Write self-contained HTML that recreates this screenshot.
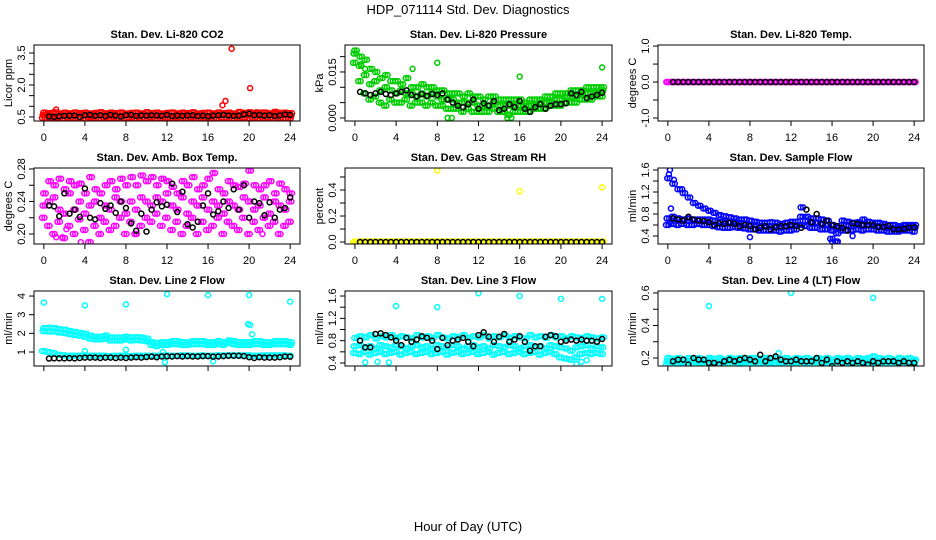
<!DOCTYPE html>
<html><head><meta charset="utf-8"><title>HDP_071114 Std. Dev. Diagnostics</title>
<style>html,body{margin:0;padding:0;background:#fff}svg{display:block;font-family:"Liberation Sans",sans-serif}</style>
</head><body>
<svg id="chart" width="936" height="540" viewBox="0 0 936 540" xmlns="http://www.w3.org/2000/svg">
<rect width="936" height="540" fill="#fff"/>
<text x="468" y="14" text-anchor="middle" font-size="13">HDP_071114  Std. Dev. Diagnostics</text>
<text x="468" y="531" text-anchor="middle" font-size="13">Hour of Day (UTC)</text>
</svg>
<script>
const binHours=[0,0.5,1,1.5,2,2.5,3,3.5,4,4.5,5,5.5,6,6.5,7,7.5,8,8.5,9,9.5,10,10.5,11,11.5,12,12.5,13,13.5,14,14.5,15,15.5,16,16.5,17,17.5,18,18.5,19,19.5,20,20.5,21,21.5,22,22.5,23,23.5,24];
const xTicks=[0,4,8,12,16,20,24];

// Panel 1: CO2
const co2Color=[[.45,.58,.7],[.42,.6,.68],[.47,.55,.72],[.44,.62,.66],[.41,.57,.7],[.46,.59,.67],[.43,.56,.71],[.45,.61,.68],[.4,.58,.7],[.47,.55,.66],[.44,.6,.69],[.42,.57,.72],[.46,.62,.67],[.43,.55,.7],[.45,.59,.68],[.41,.56,.71],[.44,.61,.66],[.47,.58,.69],[.42,.55,.7],[.45,.6,.67],[.43,.57,.72],[.46,.59,.68],[.41,.56,.7],[.44,.62,.66],[.45,.58,.69],[.42,.55,.71],[.47,.6,.67],[.43,.57,.7],[.44,.59,.68],[.46,.56,.72],[.41,.61,.66],[.45,.58,.69],[.43,.55,.7],[.44,.6,.67],[.42,.57,.71],[.46,.62,.68],[.45,.59,.7],[.41,.56,.66],[.44,.58,.73],[.47,.6,.69],[.42,.57,.72],[.45,.61,.68],[.43,.55,.7],[.44,.59,.71],[.46,.62,.67],[.41,.57,.74],[.45,.6,.69],[.43,.58,.7],[.44,.56,.68]];
const co2OutX=[1.2,17.4,17.7,18.3,20.1,20.7,22.4,16.0];
const co2OutY=[0.85,1.05,1.25,3.7,1.85,0.72,0.68,0.36];
const co2Black=[null,.52,.5,.53,.55,.56,.57,.5,.58,.6,.55,.58,.54,.6,.56,.52,.58,.6,.55,.57,.56,.58,.57,.55,.6,.54,.56,.55,.57,.58,.54,.56,.53,.56,.58,.6,.57,.55,.56,.62,.65,.58,.6,.56,.58,.54,.57,.62,.6];

// Panel 2: Pressure
const presColor=[[.018,.021,.022],[.012,.017,.02],[.008,.014,.019],[.006,.011,.016],[.007,.012,.015],[.005,.009,.013],[.004,.01,.014],[.006,.009,.012],[.005,.008,.012],[.005,.009,.011],[.006,.008,.013],[.004,.008,.01],[.005,.007,.01],[.005,.008,.011],[.004,.007,.01],[.005,.008,.01],[.004,.007,.009],[.004,.006,.009],[.003,.006,.008],[.003,.006,.008],[.003,.005,.008],[.002,.005,.007],[.003,.005,.008],[.002,.005,.007],[.002,.004,.007],[.002,.004,.006],[.002,.004,.007],[.003,.005,.007],[.002,.004,.006],[.002,.004,.006],[.001,.004,.006],[.002,.004,.006],[.002,.004,.006],[.002,.004,.005],[.002,.004,.006],[.003,.004,.006],[.003,.005,.006],[.003,.005,.007],[.004,.005,.007],[.004,.006,.008],[.004,.006,.008],[.005,.007,.008],[.005,.007,.009],[.005,.007,.009],[.006,.008,.009],[.006,.008,.01],[.006,.008,.01],[.007,.008,.01],[.007,.009,.01]];
const presOutX=[8,16,24,5.6,9,9.4,14.8,15.2,1,0.6];
const presOutY=[0.018,0.0135,0.0165,0.016,0,0,0,0,0.016,0.0175];
const presBlack=[null,.0085,.008,.0075,.008,.0085,.0078,.0075,.008,.0085,.009,.0075,.007,.0078,.0072,.0078,.0075,.008,.006,.005,.004,.0035,.0045,.006,.003,.0048,.004,.0055,.0025,.003,.0045,.0035,.0055,.003,.002,.0035,.0045,.003,.004,.0045,.0045,.0048,.008,.0075,.0085,.0065,.007,.0075,.0082];

// Panel 3: Li-820 Temp
const tempColor=binHours.map(()=>[0,0]);
const tempBlack=[null,0,0,0,0,0,0,0,0,0,0,0,0,0,0,0,0,0,0,0,0,0,0,0,0,0,0,0,0,0,0,0,0,0,0,0,0,0,0,0,0,0,0,0,0,0,0,0,0];

// Panel 4: Amb Box Temp
const ambColor=[[.22,.235,.25],[.21,.24,.265],[.2,.245,.26],[.215,.23,.268],[.195,.225,.255],[.21,.25,.265],[.2,.23,.26],[.218,.24,.262],[.205,.225,.25],[.19,.235,.27],[.21,.24,.255],[.2,.22,.25],[.215,.235,.26],[.205,.23,.265],[.21,.245,.255],[.22,.24,.268],[.2,.225,.26],[.215,.24,.27],[.2,.23,.26],[.21,.245,.272],[.22,.24,.265],[.215,.235,.27],[.225,.245,.26],[.21,.24,.268],[.22,.25,.265],[.205,.235,.258],[.215,.23,.25],[.2,.245,.265],[.21,.225,.26],[.22,.24,.27],[.2,.235,.255],[.215,.245,.26],[.205,.23,.268],[.21,.24,.275],[.22,.235,.255],[.2,.225,.25],[.215,.24,.265],[.21,.235,.26],[.205,.23,.258],[.22,.245,.262],[.2,.24,.278],[.215,.23,.26],[.205,.235,.255],[.22,.245,.26],[.21,.225,.265],[.215,.24,.25],[.2,.235,.262],[.21,.23,.255],[.215,.24,.25]];
const ambOutX=[3.6,1.2,1.8,9,21.3,2.2];
const ambOutY=[0.19,0.196,0.196,0.2,0.2,0.206];
const ambBlack=[null,.235,.234,.222,.25,.225,.23,.221,.256,.22,.218,.238,.231,.235,.226,.24,.232,.213,.204,.225,.203,.23,.239,.234,.236,.262,.227,.252,.212,.208,.215,.235,.25,.224,.228,.24,.232,.255,.23,.26,.22,.24,.238,.223,.239,.22,.23,.232,.245];

// Panel 5: Gas Stream RH
const rhColor=binHours.map(()=>[0,0.004]);
const rhOutX=[8,16,24];
const rhOutY=[0.55,0.39,0.42];
const rhBlack=[null,0,0,0,0,0,0,0,0,0,0,0,0,0,0,0,0,0,0,0,0,0,0,0,0,0,0,0,0,0,0,0,0,0,0,0,0,0,0,0,0,0,0,0,0,0,0,0,0];

// Panel 6: Sample Flow
const sfColor=[[.6,.72,1.45],[.62,.75,1.35],[.6,.72,1.25],[.62,.7,1.18],[.6,.72,1.1],[.6,.7,1.0],[.62,.7,.95],[.6,.7,.9],[.6,.7,.86],[.58,.68,.82],[.56,.66,.78],[.55,.66,.76],[.55,.65,.74],[.56,.66,.72],[.55,.64,.7],[.54,.63,.7],[.52,.6,.68],[.52,.6,.66],[.5,.58,.64],[.5,.58,.64],[.5,.58,.65],[.5,.58,.64],[.48,.56,.62],[.5,.57,.64],[.5,.6,.66],[.52,.6,.66],[.6,.75,.92],[.58,.68,.75],[.55,.65,.72],[.55,.64,.72],[.52,.62,.7],[.52,.6,.68],[.35,.5,.6],[.3,.45,.55],[.5,.6,.68],[.5,.6,.66],[.5,.58,.64],[.52,.6,.65],[.5,.6,.7],[.52,.6,.66],[.52,.58,.64],[.5,.58,.64],[.5,.56,.62],[.48,.54,.6],[.48,.54,.6],[.48,.54,.58],[.5,.55,.6],[.5,.56,.6],[.48,.55,.6]];
const sfOutX=[0.1,0.2,0.3,0.2,8,16,16.5,18,0.6,1.4];
const sfOutY=[1.52,1.6,0.9,0.65,0.38,0.3,0.28,0.4,1.42,1.25];
const sfBlack=[null,.72,.7,.68,.75,.7,.68,.67,.65,.6,.63,.62,.64,.62,.58,.6,.58,.52,.55,.58,.52,.56,.58,.58,.6,.58,.55,.88,.65,.8,.62,.68,.6,.58,.55,.5,.63,.62,.6,.6,.6,.56,.57,.58,.52,.52,.53,.55,.56];

// Panel 7: Line 2 Flow
const l2Color=[[1.05,2.12,2.28],[1.0,2.1,2.3],[.95,2.1,2.28],[.85,2.05,2.22],[.82,2.02,2.2],[.8,1.96,2.12],[.8,1.92,2.08],[.8,1.88,2.02],[.82,1.82,1.98],[.8,1.72,1.88],[.8,1.68,1.82],[.8,1.68,1.82],[.8,1.72,1.88],[.78,1.62,1.78],[.8,1.62,1.78],[.8,1.62,1.78],[.8,1.68,1.82],[.78,1.62,1.78],[.8,1.64,1.8],[.8,1.62,1.78],[.8,1.58,1.72],[.8,1.38,1.52],[.8,1.32,1.48],[.8,1.38,1.52],[.82,1.38,1.52],[.8,1.42,1.58],[.8,1.42,1.58],[.82,1.38,1.52],[.82,1.38,1.52],[.8,1.42,1.58],[.8,1.42,1.58],[.82,1.42,1.58],[.8,1.38,1.52],[.8,1.38,1.52],[.82,1.42,1.58],[.82,1.38,1.52],[.82,1.48,1.62],[.82,1.42,1.58],[.82,1.38,1.52],[.82,1.38,1.52],[.82,1.38,1.52],[.8,1.42,1.58],[.8,1.42,1.58],[.82,1.38,1.52],[.82,1.38,1.52],[.82,1.42,1.58],[.82,1.42,1.58],[.82,1.42,1.58],[.8,1.38,1.52]];
const l2OutX=[0,4,8,12,16,20,24,19.9,20.3,20.1,4,8,11.8,16.5,11.6];
const l2OutY=[3.65,3.5,3.55,4.1,4.05,4.05,3.7,2.5,1.95,2.45,1.05,1.12,0.45,0.5,1.0];
const l2Black=[null,.65,.66,.66,.66,.67,.66,.68,.7,.7,.7,.68,.7,.7,.68,.7,.68,.7,.72,.7,.73,.75,.72,.76,.77,.76,.78,.76,.78,.76,.76,.78,.78,.75,.76,.78,.8,.8,.8,.78,.72,.68,.72,.7,.7,.7,.72,.76,.75];

// Panel 8: Line 3 Flow
const l3Color=[[.58,.7,.85],[.56,.72,.88],[.6,.68,.86],[.55,.7,.9],[.58,.66,.84],[.6,.72,.88],[.56,.7,.86],[.58,.68,.9],[.6,.72,.85],[.55,.7,.88],[.58,.66,.86],[.6,.7,.84],[.56,.72,.9],[.58,.68,.86],[.6,.7,.88],[.56,.66,.85],[.58,.72,.9],[.6,.7,.86],[.55,.68,.84],[.58,.72,.88],[.6,.7,.86],[.56,.66,.9],[.58,.7,.85],[.6,.72,.88],[.56,.68,.86],[.58,.7,.9],[.6,.66,.84],[.55,.72,.88],[.58,.7,.86],[.6,.68,.9],[.56,.72,.85],[.58,.7,.88],[.6,.66,.86],[.56,.7,.84],[.58,.72,.9],[.6,.68,.86],[.55,.7,.88],[.58,.66,.85],[.6,.72,.9],[.56,.7,.86],[.5,.68,.88],[.48,.66,.84],[.46,.62,.88],[.5,.68,.86],[.56,.7,.85],[.58,.72,.88],[.56,.66,.86],[.58,.7,.84],[.56,.68,.86]];
const l3OutX=[4,8,12,16,20,24,1,2.2,3.3,21.5,22,22.5];
const l3OutY=[1.42,1.4,1.65,1.6,1.55,1.55,0.41,0.42,0.41,0.38,0.42,0.45];
const l3Black=[null,.8,.68,.68,.92,.93,.9,.86,.8,.72,.85,.78,.82,.88,.85,.8,.65,.85,.72,.8,.82,.85,.78,.7,.9,.95,.87,.78,.87,.92,.78,.82,.88,.78,.62,.7,.7,.87,.9,.88,.78,.8,.82,.8,.82,.8,.8,.78,.83];

// Panel 9: Line 4 (LT) Flow
const l4Color=[[.16,.18,.2],[.155,.175,.195],[.16,.185,.2],[.15,.17,.19],[.16,.18,.2],[.155,.18,.195],[.16,.175,.2],[.15,.18,.19],[.16,.185,.2],[.155,.17,.195],[.16,.18,.2],[.15,.175,.19],[.16,.18,.2],[.155,.185,.195],[.16,.17,.2],[.15,.18,.19],[.16,.18,.2],[.155,.175,.2],[.16,.18,.195],[.15,.185,.2],[.16,.17,.19],[.155,.18,.2],[.16,.175,.195],[.15,.18,.2],[.16,.185,.19],[.155,.17,.2],[.16,.18,.195],[.15,.175,.2],[.16,.18,.19],[.155,.185,.2],[.16,.17,.195],[.15,.18,.2],[.16,.175,.19],[.155,.18,.2],[.16,.185,.195],[.15,.17,.2],[.16,.18,.19],[.155,.175,.2],[.16,.18,.195],[.15,.185,.2],[.16,.17,.21],[.155,.18,.2],[.16,.175,.195],[.15,.18,.2],[.16,.185,.19],[.155,.17,.2],[.16,.18,.195],[.15,.175,.2],[.16,.18,.19]];
const l4OutX=[4,12,20,10.8,1,4.5];
const l4OutY=[0.52,0.6,0.57,0.23,0.15,0.14];
const l4Black=[null,.18,.19,.19,.16,.2,.19,.19,.17,.17,.16,.18,.19,.18,.19,.2,.19,.18,.22,.18,.2,.21,.19,.18,.18,.19,.18,.18,.18,.2,.17,.19,.15,.18,.17,.18,.17,.18,.17,.16,.18,.17,.18,.18,.18,.17,.18,.17,.17];

const yTicks1=[0.5,1,1.5,2,2.5,3,3.5], yLabels1=["0.5","","","2.0","","","3.5"];
const yTicks2=[0,0.005,0.01,0.015,0.02], yLabels2=["0.000","","","0.015",""];
const yTicks3=[-1,-0.5,0,0.5,1], yLabels3=["-1.0","","0.0","","1.0"];
const yTicks4=[0.2,0.22,0.24,0.26,0.28], yLabels4=["0.20","","0.24","","0.28"];
const yTicks5=[0,0.1,0.2,0.3,0.4,0.5], yLabels5=["0.0","","0.2","","0.4",""];
const yTicks6=[0.4,0.6,0.8,1,1.2,1.4,1.6], yLabels6=["0.4","","0.8","","1.2","","1.6"];
const yTicks7=[1,2,3,4], yLabels7=["1","2","3","4"];
const yTicks8=[0.4,0.6,0.8,1,1.2,1.4,1.6], yLabels8=["0.4","","0.8","","1.2","","1.6"];
const yTicks9=[0.2,0.3,0.4,0.5,0.6], yLabels9=["0.2","","0.4","","0.6"];

const NS="http://www.w3.org/2000/svg";
const svg=document.getElementById("chart");
const colX=[[34,300],[345,612],[658,924]];
const rowY=[[45,121],[168,244],[291,366]];
const subOffsets=[-0.12,0.12];
const panels=[
 {key:"co2",title:"Stan. Dev. Li-820 CO2",ylab:"Licor ppm",col:"#ff0000",ylim:[0.31,3.875],c:co2Color,ox:co2OutX,oy:co2OutY,b:co2Black,yt:yTicks1,yl:yLabels1},
 {key:"pressure",title:"Stan. Dev. Li-820 Pressure",ylab:"kPa",col:"#00cd00",ylim:[-0.001,0.0238],c:presColor,ox:presOutX,oy:presOutY,b:presBlack,yt:yTicks2,yl:yLabels2},
 {key:"li820-temp",title:"Stan. Dev. Li-820 Temp.",ylab:"degrees C",col:"#ff00ff",ylim:[-1.083,1.03],c:tempColor,ox:[],oy:[],b:tempBlack,yt:yTicks3,yl:yLabels3},
 {key:"amb-box-temp",title:"Stan. Dev. Amb. Box Temp.",ylab:"degrees C",col:"#ff00ff",ylim:[0.1877,0.2812],c:ambColor,ox:ambOutX,oy:ambOutY,b:ambBlack,yt:yTicks4,yl:yLabels4},
 {key:"gas-stream-rh",title:"Stan. Dev. Gas Stream RH",ylab:"percent",col:"#ffff00",ylim:[-0.015,0.569],c:rhColor,ox:rhOutX,oy:rhOutY,b:rhBlack,yt:yTicks5,yl:yLabels5},
 {key:"sample-flow",title:"Stan. Dev. Sample Flow",ylab:"ml/min",col:"#0000ff",ylim:[0.255,1.636],c:sfColor,ox:sfOutX,oy:sfOutY,b:sfBlack,yt:yTicks6,yl:yLabels6},
 {key:"line2-flow",title:"Stan. Dev. Line 2 Flow",ylab:"ml/min",col:"#00ffff",ylim:[0.25,4.27],c:l2Color,ox:l2OutX,oy:l2OutY,b:l2Black,yt:yTicks7,yl:yLabels7,noX:true},
 {key:"line3-flow",title:"Stan. Dev. Line 3 Flow",ylab:"ml/min",col:"#00ffff",ylim:[0.346,1.69],c:l3Color,ox:l3OutX,oy:l3OutY,b:l3Black,yt:yTicks8,yl:yLabels8,noX:true},
 {key:"line4-flow",title:"Stan. Dev. Line 4 (LT) Flow",ylab:"ml/min",col:"#00ffff",ylim:[0.151,0.612],c:l4Color,ox:l4OutX,oy:l4OutY,b:l4Black,yt:yTicks9,yl:yLabels9,noX:true}
];
function mk(tag,attrs,parent){const e=document.createElementNS(NS,tag);for(const k in attrs)e.setAttribute(k,attrs[k]);parent.appendChild(e);return e;}

panels.forEach((p,idx)=>{
  const [x0,x1]=colX[idx%3],[y0,y1]=rowY[Math.floor(idx/3)];
  const g=mk("g",{},svg);
  
  
  const xs=v=>x0+(x1-x0)*((v+0.96)/25.92);
  const ys=v=>y1-(y1-y0)*((v-p.ylim[0])/(p.ylim[1]-p.ylim[0]));
  const t=mk("text",{x:(x0+x1)/2,y:y0-7,"text-anchor":"middle","font-size":"11","font-weight":"bold"},g);
  t.textContent=p.title;
  
  
  const yl=mk("text",{transform:`translate(${x0-22},${(y0+y1)/2}) rotate(-90)`,"text-anchor":"middle","font-size":"11"},g);
  yl.textContent=p.ylab;
  
  
  const pts=mk("g",{fill:"none","stroke-width":"1.5"},g);
  
  
  const cl=mk("clipPath",{id:"clip"+idx},g);
  mk("rect",{x:x0,y:y0,width:x1-x0,height:y1-y0},cl);
  pts.setAttribute("clip-path","url(#clip"+idx+")");
  p.c.forEach((vals,i)=>{
    if(i>=binHours.length)return;
    vals.forEach((v,j)=>{
      subOffsets.forEach(off=>{
        const jit=(j-(vals.length-1)/2)*0.06;
        const c=mk("circle",{cx:xs(binHours[i]+off+jit),cy:ys(v),r:2.5,stroke:p.col},pts);
        
        
      });
    });
  });
  p.ox.forEach((xv,i)=>{
    const c=mk("circle",{cx:xs(xv),cy:ys(p.oy[i]),r:2.5,stroke:p.col},pts);
    
    
  });
  p.b.forEach((v,i)=>{
    if(v===null||i>=binHours.length)return;
    const c=mk("circle",{cx:xs(binHours[i]),cy:ys(v),r:2.5,stroke:"#000"},pts);
    
    
  });
  const box=mk("rect",{x:x0,y:y0,width:x1-x0,height:y1-y0,fill:"none",stroke:"#000","stroke-width":"1"},g);
  
  
  const xa=mk("g",{},g);
  
  
  mk("line",{x1:xs(xTicks[0]),x2:xs(xTicks[xTicks.length-1]),y1:y1,y2:y1,stroke:"#000"},xa);
  xTicks.forEach(v=>{
    mk("line",{x1:xs(v),x2:xs(v),y1:y1,y2:y1+5,stroke:"#000"},xa);
    if(!p.noX){
      const lt=mk("text",{x:xs(v),y:y1+20,"text-anchor":"middle","font-size":"11"},xa);
      lt.textContent=String(v);
      
      
    }
  });
  const ya=mk("g",{},g);
  
  
  mk("line",{x1:x0,x2:x0,y1:ys(p.yt[0]),y2:ys(p.yt[p.yt.length-1]),stroke:"#000"},ya);
  p.yt.forEach((v,i)=>{
    mk("line",{x1:x0-5,x2:x0,y1:ys(v),y2:ys(v),stroke:"#000"},ya);
    if(p.yl[i]){
      const lt=mk("text",{transform:`translate(${x0-9},${ys(v)}) rotate(-90)`,"text-anchor":"middle","font-size":"11"},ya);
      lt.textContent=p.yl[i];
      
      
    }
  });
});
</script>
</body></html>
